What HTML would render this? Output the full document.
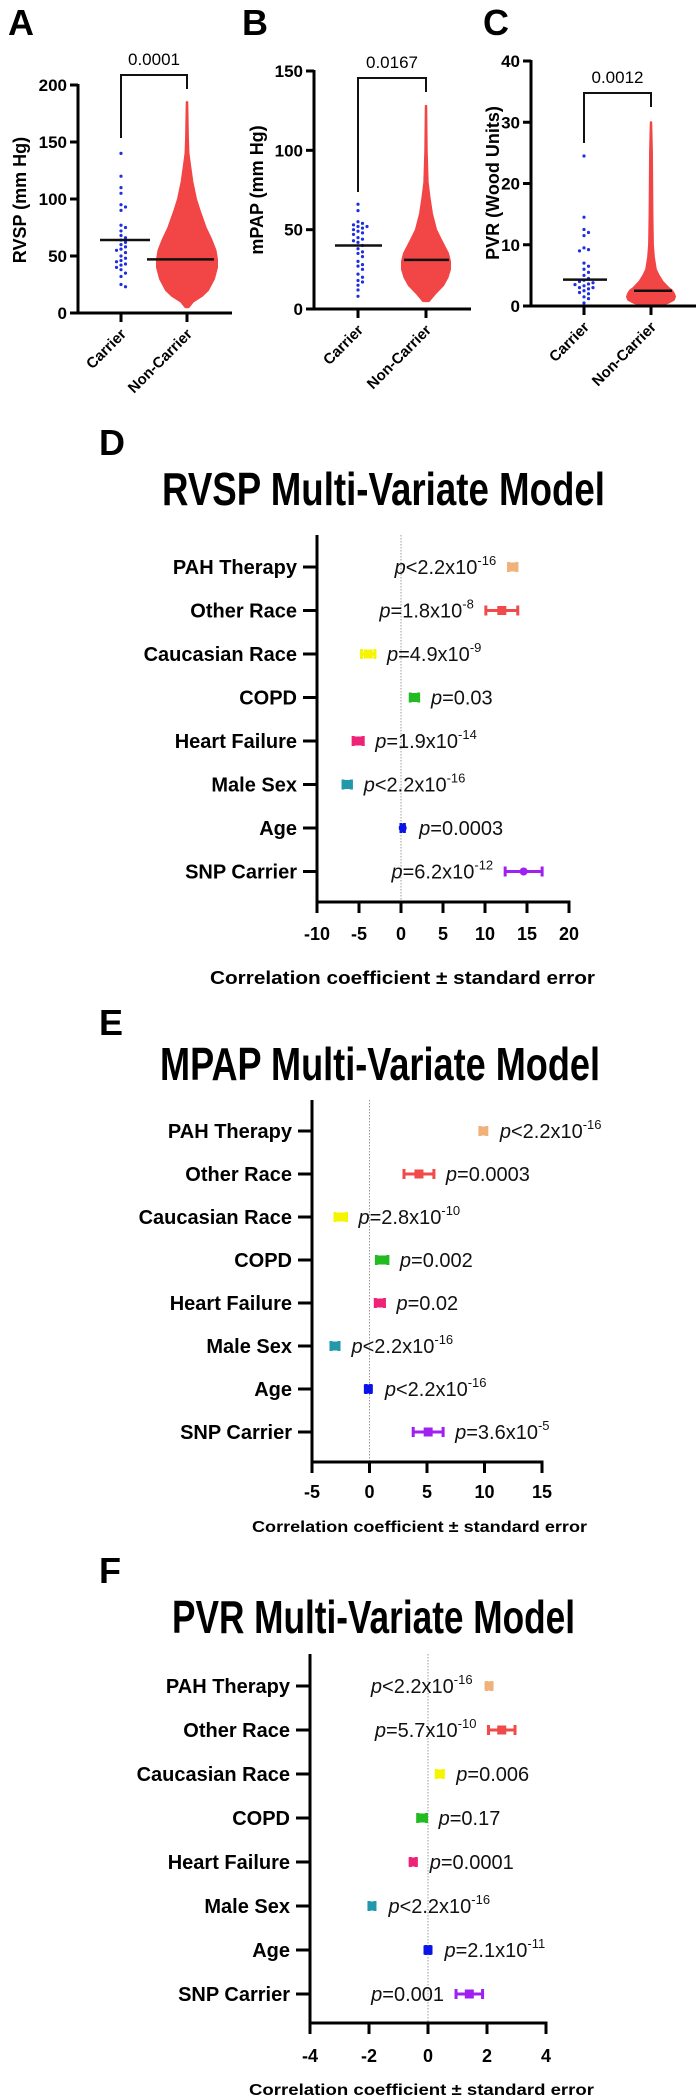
<!DOCTYPE html>
<html><head><meta charset="utf-8"><style>
html,body{margin:0;padding:0;background:#fff;}
svg{display:block;font-family:"Liberation Sans",Arial,sans-serif;}
</style></head><body>
<svg id="fig" width="697" height="2100" viewBox="0 0 697 2100">
<rect x="0" y="0" width="697" height="2100" fill="#fff"/>
<text x="8" y="35" font-size="36" font-weight="bold">A</text>
<text x="242" y="35" font-size="36" font-weight="bold">B</text>
<text x="483" y="35" font-size="36" font-weight="bold">C</text>
<text x="99" y="455" font-size="36" font-weight="bold">D</text>
<text x="99" y="1035" font-size="36" font-weight="bold">E</text>
<text x="99" y="1583" font-size="36" font-weight="bold">F</text>
<text x="162" y="505" font-size="46" font-weight="bold" textLength="443" lengthAdjust="spacingAndGlyphs">RVSP Multi-Variate Model</text>
<text x="160" y="1080" font-size="46" font-weight="bold" textLength="440" lengthAdjust="spacingAndGlyphs">MPAP Multi-Variate Model</text>
<text x="172" y="1633" font-size="46" font-weight="bold" textLength="403" lengthAdjust="spacingAndGlyphs">PVR Multi-Variate Model</text>
<text x="210" y="984" font-size="18" font-weight="bold" textLength="385" lengthAdjust="spacingAndGlyphs">Correlation coefficient ± standard error</text>
<text x="252" y="1532" font-size="16" font-weight="bold" textLength="335" lengthAdjust="spacingAndGlyphs">Correlation coefficient ± standard error</text>
<text x="249" y="2095" font-size="16" font-weight="bold" textLength="345" lengthAdjust="spacingAndGlyphs">Correlation coefficient ± standard error</text>
<text transform="translate(26,200) rotate(-90)" text-anchor="middle" font-size="18" font-weight="bold">RVSP (mm Hg)</text>
<text transform="translate(263,190) rotate(-90)" text-anchor="middle" font-size="18" font-weight="bold">mPAP (mm Hg)</text>
<text transform="translate(499,183) rotate(-90)" text-anchor="middle" font-size="18" font-weight="bold">PVR (Wood Units)</text>
</svg>
<script>
// ---------- Top scatter data ----------
const groupNames = ['Carrier', 'Non-Carrier'];
const rvspTicksY = [0, 50, 100, 150, 200];
const mpapTicksY = [0, 50, 100, 150];
const pvrTicksY = [0, 10, 20, 30, 40];
const rvspCarrier = [140,120,110,105,95,93,90,77,75,72,68,66,64,62,60,58,56,55,53,50,48,46,45,43,42,40,38,35,32,25,23];
const mpapCarrier = [66,62,55,54,53,52,52,51,50,49,48,47,45,44,43,42,40,38,36,35,33,30,28,27,25,22,20,18,17,15,12,8];
const pvrCarrier = [24.5,14.5,12.5,12,11.5,9.5,9.2,9,7,6.5,6,5.5,5,4.5,4.2,4,3.8,3.6,3.5,3.3,3,3,2.8,2.5,2.2,2,1.5,1.2,0.5];
const rvspMeans = [64, 47];
const mpapMeans = [40, 31];
const pvrMeans = [4.3, 2.5];
const rvspPText = '0.0001';
const mpapPText = '0.0167';
const pvrPText = '0.0012';
// non-carrier density: value levels and relative spread (0..1)
const rvspNcLevels = [5,10,15,20,30,40,47,55,65,75,90,100,115,130,140,155,185];
const rvspNcSpread = [0.05,0.2,0.5,0.7,0.9,1,1,0.95,0.8,0.62,0.42,0.3,0.18,0.1,0.05,0.03,0.01];
const mpapNcLevels = [5,10,15,20,25,30,35,40,45,50,60,70,80,100,128];
const mpapNcSpread = [0.12,0.4,0.72,0.9,1,1,0.92,0.75,0.58,0.42,0.25,0.15,0.07,0.03,0.01];
const pvrNcLevels = [0,0.5,1,1.5,2,2.5,3,4,5,6,8,10,15,20,25,30];
const pvrNcSpread = [0.3,0.7,0.95,1,0.96,0.88,0.72,0.48,0.32,0.2,0.12,0.08,0.06,0.05,0.04,0.01];

// ---------- Forest data ----------
const forestRows = ['PAH Therapy','Other Race','Caucasian Race','COPD','Heart Failure','Male Sex','Age','SNP Carrier'];
const rvspEst = [13.3,12.0,-3.9,1.6,-5.1,-6.4,0.2,14.6];
const rvspErr = [0.5,1.9,0.8,0.5,0.6,0.5,0.2,2.2];
const rvspPOp = ['<','=','=','=','=','<','=','='];
const rvspPVal = ['2.2','1.8','4.9','0.03','1.9','2.2','0.0003','6.2'];
const rvspPExp = ['-16','-8','-9','','-14','-16','','-12'];
const rvspSide = ['L','L','R','R','R','R','R','L'];
const rvspTicks = [-10,-5,0,5,10,15,20];
const mpapEst = [9.9,4.3,-2.5,1.1,0.9,-3.0,-0.1,5.1];
const mpapErr = [0.3,1.3,0.5,0.5,0.4,0.35,0.2,1.3];
const mpapPOp = ['<','=','=','=','=','<','<','='];
const mpapPVal = ['2.2','0.0003','2.8','0.002','0.02','2.2','2.2','3.6'];
const mpapPExp = ['-16','','-10','','','-16','-16','-5'];
const mpapSide = ['R','R','R','R','R','R','R','R'];
const mpapTicks = [-5,0,5,10,15];
const pvrEst = [2.07,2.5,0.4,-0.2,-0.5,-1.9,0.0,1.4];
const pvrErr = [0.08,0.45,0.12,0.15,0.1,0.1,0.07,0.45];
const pvrPOp = ['<','=','=','=','=','<','=','='];
const pvrPVal = ['2.2','5.7','0.006','0.17','0.0001','2.2','2.1','0.001'];
const pvrPExp = ['-16','-10','','','','-16','-11',''];
const pvrSide = ['L','L','R','R','R','R','R','L'];
const pvrTicks = [-4,-2,0,2,4];

const rowColors = ['#f0b27a','#f04a4a','#f5f500','#22bb22','#ee2277','#2299aa','#0a14e6','#a020f0'];

const NS = 'http://www.w3.org/2000/svg';
const svg = document.getElementById('fig');
function mk(tag, attrs, parent) {
  const e = document.createElementNS(NS, tag);
  for (const k in attrs) e.setAttribute(k, attrs[k]);
  (parent || svg).appendChild(e);
  return e;
}

function scatterPanel(cfg) {
  const g = mk('g', {});
  
  
  const y = v => cfg.y0 - (v - cfg.min) / (cfg.max - cfg.min) * (cfg.y0 - cfg.y1);
  const cx = [cfg.cx0, cfg.cx1];
  // non-carrier swarm (violin-shaped dense points)
  const poly = [];
  for (let i = 0; i < cfg.ncLevels.length; i++) poly.push([cx[1] + cfg.ncSpread[i] * cfg.hw, y(cfg.ncLevels[i])]);
  for (let i = cfg.ncLevels.length - 1; i >= 0; i--) poly.push([cx[1] - cfg.ncSpread[i] * cfg.hw, y(cfg.ncLevels[i])]);
  const sw = mk('polygon', {points: poly.map(p => p.join(',')).join(' '), fill: '#f24545', stroke: '#f24545', 'stroke-width': 2, 'stroke-linejoin': 'round'}, g);
  
  
  // carrier swarm
  const placed = [];
  cfg.carrier.forEach(v => {
    const py = y(v);
    let off = 0;
    for (let k = 0; k < 40; k++) {
      const cand = (k % 2 ? 1 : -1) * Math.ceil(k / 2) * 4.5;
      if (!placed.some(p => Math.abs(p[0] - cand) < 4.5 && Math.abs(p[1] - py) < 4.5)) { off = cand; break; }
    }
    placed.push([off, py]);
    const d = mk('circle', {cx: cx[0] + off, cy: py, r: 1.6, fill: '#1f2fe0'}, g);
    
    
  });
  // means
  cfg.means.forEach((m, i) => {
    const l = mk('line', {x1: cx[i] - cfg.mw[i][0], x2: cx[i] + cfg.mw[i][1], y1: y(m), y2: y(m), stroke: '#111', 'stroke-width': 2.5}, g);
    
    
  });
  // axes
  const ya = mk('line', {x1: cfg.ax, x2: cfg.ax, y1: cfg.y1 - 1, y2: cfg.y0 + 1.5, stroke: '#000', 'stroke-width': 3}, g);
  
  
  const xa = mk('line', {x1: cfg.ax - 1.5, x2: cfg.axEnd, y1: cfg.y0, y2: cfg.y0, stroke: '#000', 'stroke-width': 3}, g);
  
  
  cfg.ticks.forEach(t => {
    const tl = mk('line', {x1: cfg.ax - 8, x2: cfg.ax, y1: y(t), y2: y(t), stroke: '#000', 'stroke-width': 3}, g);
    
    
    const tt = mk('text', {x: cfg.ax - 11, y: y(t) + 6, 'text-anchor': 'end', 'font-size': 17, 'font-weight': 'bold'}, g);
    tt.textContent = t;
    
    
  });
  groupNames.forEach((n, i) => {
    const tl = mk('line', {x1: cx[i], x2: cx[i], y1: cfg.y0, y2: cfg.y0 + 9, stroke: '#000', 'stroke-width': 3}, g);
    
    
    const tt = mk('text', {x: 0, y: 0, 'text-anchor': 'end', 'font-size': 15, 'font-weight': 'bold', transform: `translate(${cx[i] + 6},${cfg.y0 + 22}) rotate(-45)`}, g);
    tt.textContent = n;
    
    
  });
  // bracket
  const br = mk('polyline', {points: `${cx[0]},${cfg.bl} ${cx[0]},${cfg.bt} ${cx[1]},${cfg.bt} ${cx[1]},${cfg.brr}`, fill: 'none', stroke: '#111', 'stroke-width': 2}, g);
  
  
  const pt = mk('text', {x: (cx[0] + cx[1]) / 2, y: cfg.bt - 10, 'text-anchor': 'middle', 'font-size': 17}, g);
  pt.textContent = cfg.p;
  
  
}

scatterPanel({name: 'rvsp', min: 0, max: 200, y0: 313, y1: 85, ax: 78, axEnd: 232, cx0: 121, cx1: 187, hw: 30,
  carrier: rvspCarrier, means: rvspMeans, mw: [[21, 29], [40, 27]], ticks: rvspTicksY,
  ncLevels: rvspNcLevels, ncSpread: rvspNcSpread, bt: 75, bl: 138, brr: 89, p: rvspPText});
scatterPanel({name: 'mpap', min: 0, max: 150, y0: 309, y1: 71, ax: 314, axEnd: 471, cx0: 358, cx1: 426, hw: 24,
  carrier: mpapCarrier, means: mpapMeans, mw: [[23, 24], [22, 23]], ticks: mpapTicksY,
  ncLevels: mpapNcLevels, ncSpread: mpapNcSpread, bt: 78, bl: 192, brr: 92, p: mpapPText});
scatterPanel({name: 'pvr', min: 0, max: 40, y0: 306, y1: 61, ax: 531, axEnd: 696, cx0: 584, cx1: 651, hw: 24,
  carrier: pvrCarrier, means: pvrMeans, mw: [[21, 23], [17, 21]], ticks: pvrTicksY,
  ncLevels: pvrNcLevels, ncSpread: pvrNcSpread, bt: 93, bl: 143, brr: 107, p: pvrPText});

function forest(cfg) {
  const g = mk('g', {});
  
  
  const x = v => cfg.ax + (v - cfg.ticks[0]) / (cfg.ticks[cfg.ticks.length - 1] - cfg.ticks[0]) * (cfg.axEnd - cfg.ax);
  const ry = i => cfg.firstRow + i * cfg.step;
  const z = mk('line', {x1: x(0), x2: x(0), y1: cfg.top, y2: cfg.bottom, stroke: '#999', 'stroke-width': 1, 'stroke-dasharray': '1.5,1.5'}, g);
  
  
  const ya = mk('line', {x1: cfg.ax, x2: cfg.ax, y1: cfg.top, y2: cfg.bottom + 1.5, stroke: '#000', 'stroke-width': 3}, g);
  
  
  const xa = mk('line', {x1: cfg.ax - 1.5, x2: cfg.axEnd + 1.5, y1: cfg.bottom, y2: cfg.bottom, stroke: '#000', 'stroke-width': 3}, g);
  
  
  cfg.ticks.forEach(t => {
    const tl = mk('line', {x1: x(t), x2: x(t), y1: cfg.bottom, y2: cfg.bottom + 11, stroke: '#000', 'stroke-width': 3}, g);
    
    
    const tt = mk('text', {x: x(t), y: cfg.tickY, 'text-anchor': 'middle', 'font-size': 18, 'font-weight': 'bold'}, g);
    tt.textContent = t;
    
    
  });
  forestRows.forEach((r, i) => {
    const yy = ry(i);
    const tl = mk('line', {x1: cfg.ax - 14, x2: cfg.ax, y1: yy, y2: yy, stroke: '#000', 'stroke-width': 3}, g);
    
    
    const lt = mk('text', {x: cfg.ax - 20, y: yy + 7, 'text-anchor': 'end', 'font-size': 20, 'font-weight': 'bold'}, g);
    lt.textContent = r;
    
    
    const c = rowColors[i];
    const lo = x(cfg.est[i] - cfg.err[i]), hi = x(cfg.est[i] + cfg.err[i]), m = x(cfg.est[i]);
    const eb = mk('line', {x1: lo, x2: hi, y1: yy, y2: yy, stroke: c, 'stroke-width': 3}, g);
    
    
    [lo, hi].forEach(cxp => {
      const cap = mk('line', {x1: cxp, x2: cxp, y1: yy - 5, y2: yy + 5, stroke: c, 'stroke-width': 3}, g);
      
      
    });
    let mark;
    if (i >= 6 && cfg.round) mark = mk('circle', {cx: m, cy: yy, r: 4, fill: c}, g);
    else mark = mk('rect', {x: m - 4.5, y: yy - 4.5, width: 9, height: 9, fill: c}, g);
    
    
    const left = cfg.side[i] === 'L';
    const pt = mk('text', {x: left ? Math.min(lo, m - 4.5) - 12 : Math.max(hi, m + 4.5) + 12, y: yy + 7, 'text-anchor': left ? 'end' : 'start', 'font-size': 20, fill: '#111'}, g);
    
    
    const t1 = mk('tspan', {'font-style': 'italic'}, pt); t1.textContent = 'p';
    const t2 = mk('tspan', {}, pt); t2.textContent = cfg.pOp[i] + cfg.pVal[i] + (cfg.pExp[i] ? 'x10' : '');
    if (cfg.pExp[i]) { const t3 = mk('tspan', {dy: -9, 'font-size': 13}, pt); t3.textContent = cfg.pExp[i]; }
  });
}

forest({name: 'rvsp', ax: 317, axEnd: 569, top: 535, firstRow: 567, step: 43.5, bottom: 902, tickY: 940, round: true,
  ticks: rvspTicks, est: rvspEst, err: rvspErr, pOp: rvspPOp, pVal: rvspPVal, pExp: rvspPExp, side: rvspSide});
forest({name: 'mpap', ax: 312, axEnd: 542, top: 1100, firstRow: 1131, step: 43, bottom: 1462, tickY: 1498, round: false,
  ticks: mpapTicks, est: mpapEst, err: mpapErr, pOp: mpapPOp, pVal: mpapPVal, pExp: mpapPExp, side: mpapSide});
forest({name: 'pvr', ax: 310, axEnd: 546, top: 1654, firstRow: 1686, step: 44, bottom: 2023, tickY: 2062, round: false,
  ticks: pvrTicks, est: pvrEst, err: pvrErr, pOp: pvrPOp, pVal: pvrPVal, pExp: pvrPExp, side: pvrSide});
</script>
</body></html>
